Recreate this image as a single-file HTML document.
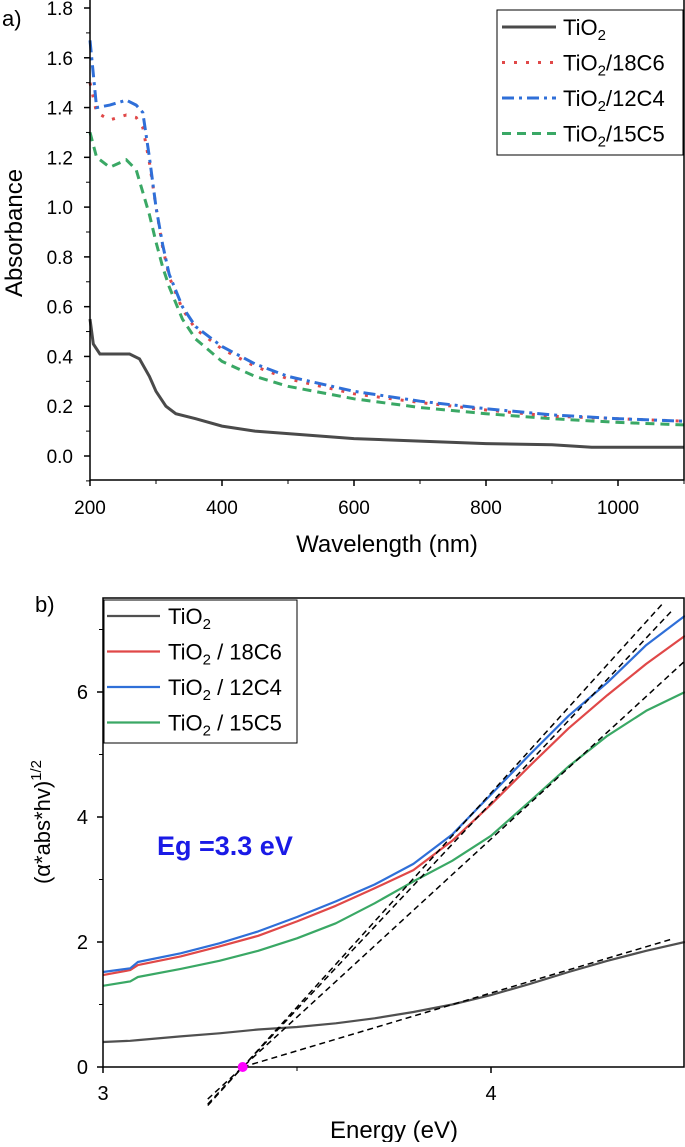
<!DOCTYPE html>
<html><head><meta charset="utf-8"><style>
body{margin:0;background:#fff;width:685px;height:1142px;overflow:hidden}
svg{font-family:"Liberation Sans",Arial,sans-serif}
</style></head><body>
<svg id="s" width="685" height="1142">
<text x="2" y="26" font-size="22">a)</text>
<g id="ga"></g>
<text x="35" y="612" font-size="22">b)</text>
<g id="gb"></g>
</svg>
<script>
// ---- Chart A data ----
const aX_ti=[200,205,215,260,275,290,300,315,330,360,400,450,500,600,700,800,900,960,1100];
const aY_ti=[0.55,0.45,0.41,0.41,0.39,0.32,0.26,0.2,0.17,0.15,0.12,0.1,0.09,0.07,0.06,0.05,0.045,0.035,0.035];
const aX=[200,210,230,255,270,280,290,300,310,320,340,360,400,450,500,600,700,800,900,1000,1100];
const aY_12=[1.67,1.4,1.41,1.43,1.41,1.38,1.2,1.0,0.85,0.73,0.6,0.52,0.44,0.37,0.32,0.26,0.22,0.19,0.165,0.15,0.14];
const aY_18=[1.5,1.38,1.35,1.37,1.36,1.32,1.18,1.0,0.84,0.72,0.59,0.51,0.43,0.36,0.31,0.25,0.215,0.185,0.16,0.15,0.14];
const aY_15=[1.3,1.2,1.16,1.19,1.15,1.06,0.97,0.86,0.76,0.68,0.55,0.47,0.38,0.32,0.28,0.23,0.195,0.17,0.15,0.135,0.125];
const aXTicks=[200,400,600,800,1000];
const aYTicks=[0.0,0.2,0.4,0.6,0.8,1.0,1.2,1.4,1.6,1.8];
// ---- Chart B data ----
const bX=[3,3.07,3.09,3.2,3.3,3.4,3.5,3.6,3.7,3.8,3.9,4.0,4.1,4.2,4.3,4.4,4.5];
const bY_ti=[0.4,0.42,0.43,0.49,0.54,0.6,0.64,0.7,0.78,0.88,1.0,1.15,1.33,1.52,1.7,1.86,2.0];
const bY_12=[1.52,1.58,1.68,1.82,1.98,2.17,2.4,2.65,2.92,3.25,3.72,4.36,5.0,5.62,6.15,6.75,7.22];
const bY_18=[1.47,1.55,1.63,1.77,1.93,2.1,2.33,2.58,2.86,3.15,3.62,4.2,4.82,5.42,5.95,6.45,6.9];
const bY_15=[1.3,1.37,1.44,1.57,1.7,1.86,2.06,2.3,2.62,2.97,3.3,3.7,4.25,4.81,5.3,5.7,6.0];
const fitSlopes=[6.85,6.6,5.7,1.85];
const fitStarts=[3.27,3.27,3.27,3.36];
const fitEnds=[4.44,4.47,4.5,4.47];
const eg=3.36;
const bXTicks=[3,4];
const bYTicks=[0,2,4,6];
const NS="http://www.w3.org/2000/svg";
function el(p,t,a){const e=document.createElementNS(NS,t);for(const k in a)e.setAttribute(k,a[k]);p.appendChild(e);return e;}
// Chart A
const ga=document.getElementById('ga');
const ax=v=>90+(v-200)*66/100, ay=v=>456-v*(448/1.8);
function pathA(xs,ys){return xs.map((x,i)=>(i?'L':'M')+ax(x).toFixed(1)+','+ay(ys[i]).toFixed(1)).join('');}
let p;
p=el(ga,'path',{d:pathA(aX_ti,aY_ti),fill:'none',stroke:'#4a4a4a','stroke-width':3});

p=el(ga,'path',{d:pathA(aX,aY_15),fill:'none',stroke:'#3aa865','stroke-width':3,'stroke-dasharray':'9,6'});

p=el(ga,'path',{d:pathA(aX,aY_18),fill:'none',stroke:'#e04848','stroke-width':3,'stroke-dasharray':'3,9'});

p=el(ga,'path',{d:pathA(aX,aY_12),fill:'none',stroke:'#2f6fd8','stroke-width':3,'stroke-dasharray':'12,5,3,5'});

el(ga,'path',{d:'M90,0V480H684V0',fill:'none',stroke:'#000','stroke-width':1.5});
aXTicks.forEach(v=>{el(ga,'line',{x1:ax(v),x2:ax(v),y1:480,y2:486,stroke:'#000','stroke-width':1.5});
 const t=el(ga,'text',{x:ax(v),y:514,'font-size':19,'text-anchor':'middle'});t.textContent=v;
 
 if(v<1100)el(ga,'line',{x1:ax(v+100),x2:ax(v+100),y1:480,y2:484,stroke:'#000'});});
aYTicks.forEach(v=>{el(ga,'line',{x1:84,x2:90,y1:ay(v),y2:ay(v),stroke:'#000','stroke-width':1.5});
 el(ga,'line',{x1:86,x2:90,y1:ay(v+0.1),y2:ay(v+0.1),stroke:'#000'});
 const t=el(ga,'text',{x:73,y:ay(v)+7,'font-size':19,'text-anchor':'end'});t.textContent=v.toFixed(1);
 });
el(ga,'line',{x1:86,x2:90,y1:ay(-0.1),y2:ay(-0.1),stroke:'#000'});
let t=el(ga,'text',{x:387,y:552,'font-size':24,'text-anchor':'middle'});t.textContent='Wavelength (nm)';

t=el(ga,'text',{transform:'translate(22,233) rotate(-90)','font-size':24,'text-anchor':'middle'});t.textContent='Absorbance';

const lg=el(ga,'g',{});
el(lg,'rect',{x:497,y:10,width:186,height:145,fill:'#fff',stroke:'#000','stroke-width':1});
const la=[['TiO','','#4a4a4a',''],['TiO','/18C6','#e04848','3,9'],['TiO','/12C4','#2f6fd8','12,5,3,5'],['TiO','/15C5','#3aa865','9,6']];
la.forEach((l,i)=>{const y=27+i*35.5;el(lg,'line',{x1:502,x2:556,y1:y,y2:y,stroke:l[2],'stroke-width':3,'stroke-dasharray':l[3]||'none'});
 const tt=el(lg,'text',{x:563,y:y+8,'font-size':22});tt.innerHTML='TiO<tspan font-size="15" dy="5">2</tspan><tspan dy="-5">'+l[1]+'</tspan>';
 });
// Chart B
const gb=document.getElementById('gb');
const bx=v=>103+(v-3)*388, by=v=>1067-v*62.5;
function pathB(xs,ys){return xs.map((x,i)=>(i?'L':'M')+bx(x).toFixed(1)+','+by(ys[i]).toFixed(1)).join('');}
[[bY_ti,'#505050','line-tio2-b'],[bY_15,'#3aa865','line-15c5-b'],[bY_18,'#e04848','line-18c6-b'],[bY_12,'#2f6fd8','line-12c4-b']].forEach(s=>{
 const q=el(gb,'path',{d:pathB(bX,s[0]),fill:'none',stroke:s[1],'stroke-width':2.2,'stroke-linejoin':'round'});
 });
fitSlopes.forEach((m,i)=>{const x0=fitStarts[i];
 const q=el(gb,'line',{x1:bx(x0),y1:by(m*(x0-eg)),x2:bx(fitEnds[i]),y2:by(m*(fitEnds[i]-eg)),stroke:'#000','stroke-width':1.5,'stroke-dasharray':'6,4'});
 });
el(gb,'path',{d:'M103,598V1067H684V598Z',fill:'none',stroke:'#000','stroke-width':1.5});
bXTicks.forEach(v=>{el(gb,'line',{x1:bx(v),x2:bx(v),y1:1067,y2:1073,stroke:'#000','stroke-width':1.5});
 const q=el(gb,'text',{x:bx(v),y:1100,'font-size':20,'text-anchor':'middle'});q.textContent=v;
 });
el(gb,'line',{x1:bx(3.5),x2:bx(3.5),y1:1067,y2:1071,stroke:'#000'});
bYTicks.forEach(v=>{el(gb,'line',{x1:97,x2:103,y1:by(v),y2:by(v),stroke:'#000','stroke-width':1.5});
 el(gb,'line',{x1:99,x2:103,y1:by(v+1),y2:by(v+1),stroke:'#000'});
 const q=el(gb,'text',{x:88,y:by(v)+7,'font-size':20,'text-anchor':'end'});q.textContent=v;
 });
const dot=el(gb,'circle',{cx:bx(eg),cy:by(0),r:5,fill:'#ff00ff'});

t=el(gb,'text',{x:394,y:1138,'font-size':24,'text-anchor':'middle'});t.textContent='Energy (eV)';

t=el(gb,'text',{transform:'translate(50,822) rotate(-90)','font-size':22,'text-anchor':'middle'});t.innerHTML='(α*abs*hv)<tspan font-size="15" dy="-9">1/2</tspan>';

t=el(gb,'text',{x:157,y:855,'font-size':27,'font-weight':'bold',fill:'#1a1ae6'});t.textContent='Eg =3.3 eV';

const lb=el(gb,'g',{});
el(lb,'rect',{x:104,y:600,width:193,height:143,fill:'#fff',stroke:'#000','stroke-width':1});
[['','#505050'],[' / 18C6','#e04848'],[' / 12C4','#2f6fd8'],[' / 15C5','#3aa865']].forEach((l,i)=>{const y=616+i*35.5;
 el(lb,'line',{x1:107,x2:160,y1:y,y2:y,stroke:l[1],'stroke-width':2.2});
 const tt=el(lb,'text',{x:168,y:y+8,'font-size':22});tt.innerHTML='TiO<tspan font-size="15" dy="5">2</tspan><tspan dy="-5">'+l[0]+'</tspan>';
 });
</script>
</body></html>
